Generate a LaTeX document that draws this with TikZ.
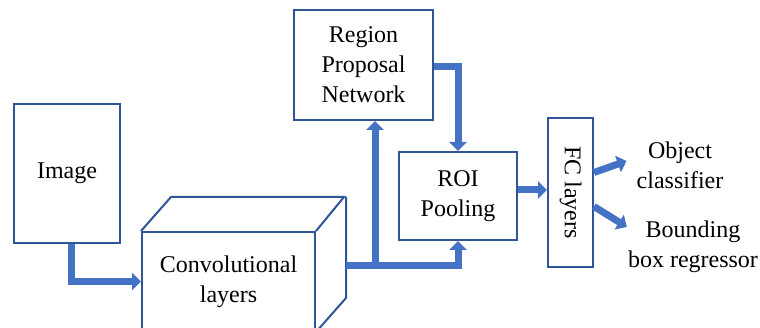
\documentclass[tikz,border=0pt]{standalone}
\usepackage{fontspec}
\setmainfont{Liberation Serif}
\usetikzlibrary{calc,arrows.meta,positioning}
\definecolor{boxblue}{RGB}{47,85,151}
\definecolor{flowblue}{RGB}{68,114,196}
\tikzset{
  stage/.style   ={rectangle, draw=boxblue, fill=white, line width=2pt,
                   inner sep=0pt, align=center, font=\fontsize{24}{30}\selectfont},
  cubeface/.style={draw=boxblue, line width=2pt, line join=miter},
  flowline/.style={line width=7pt, flowblue, line join=miter},
  flow/.style    ={flowline, -{Triangle[length=9pt,width=17pt]}},
  outlabel/.style={align=center, inner sep=0pt, font=\fontsize{24}{30}\selectfont},
}

\begin{document}
\begin{tikzpicture}[x=1pt,y=-1pt]
  \useasboundingbox (0,0) rectangle (760,328);
  \node[stage, minimum width=106, minimum height=139] (img) at (67,173.5) {Image};
  % conv block as a box
  \node[stage, minimum width=173, minimum height=99] (conv) at (228.5,281.5) {Convolutional\\layers};
  \draw[cubeface] (conv.north west) -- ++(30,-34) -- ++(173,0) -- (conv.north east);
  \draw[cubeface] ($(conv.north east)+(30,-34)$) -- ($(conv.south east)+(30,-34)$) -- (conv.south east);
  \node[stage, minimum width=139, minimum height=110] (rpn) at (363.5,65) {Region\\Proposal\\Network};
  \node[stage, minimum width=118, minimum height=88] (roi) at (458,196) {ROI\\Pooling};
  % rotated: fc.south is its left side, fc.north its right side
  \node[stage, rotate=-90, minimum width=149, minimum height=45] (fc) at (570.5,192.5) {FC layers};
  \node[outlabel] (obj) at (680,165) {Object\\classifier};
  \node[outlabel] (bbox) at (693,247) {Bounding\\box regressor};

  \coordinate (convout) at ($(conv.north east)+(30,35)$);
  \coordinate (split) at ($(convout)+(29,0)$);
  \draw[flow] ([xshift=4.5pt]img.south) |- (conv.west);
  \draw[flowline] (convout) -- (split);
  \draw[flow] (split) -- (split |- rpn.south);
  \draw[flow] (split) -| (roi.south);
  \draw[flow] ($(rpn.east)+(0,2)$) -| (roi.north);
  \draw[flow] ($(roi.east)+(0,-6)$) -- ($(roi.east -| fc.south)+(0,-6)$);
  \draw[flow] ($(fc.north)+(0,-20)$) -- ($(obj.west)+(-10,-4)$);
  \draw[flow] ($(fc.north)+(0,14)$) -- ($(bbox.north west)+(-1,6)$);
\end{tikzpicture}
\end{document}
